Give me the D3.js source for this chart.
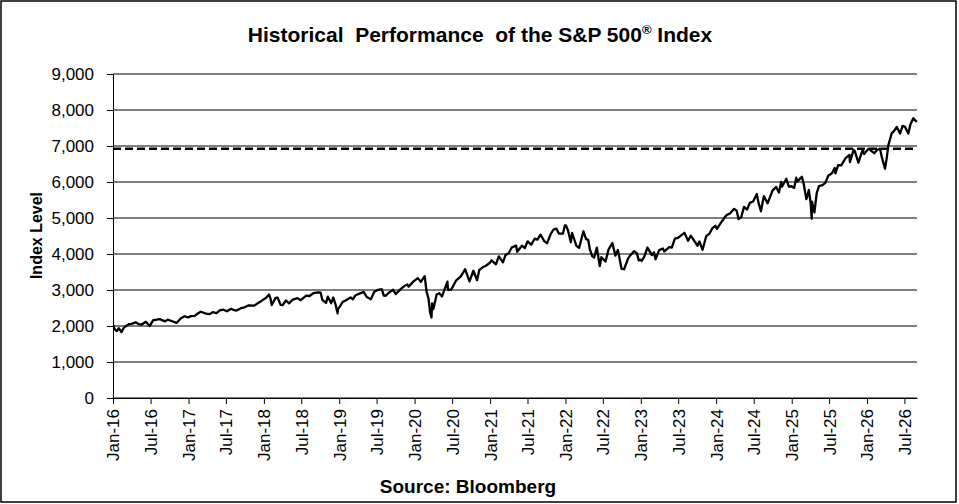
<!DOCTYPE html>
<html lang="en">
<head>
    <meta charset="UTF-8">
    <title>Historical Performance of the S&P 500 Index</title>
    <script src="https://d3js.org/d3.v7.min.js"></script>
    <style>
        body {
            margin: 0;
            background: #fff;
        }
        text {
            font-family: Arial, "Liberation Sans", sans-serif;
            fill: #000;
        }
        .grid {
            stroke: #000;
            stroke-width: 1;
        }
        .axis path, .axis line {
            stroke: #000;
            stroke-width: 1;
        }
        .axis text {
            font-size: 17px;
        }
        .title {
            font-size: 21px;
            font-weight: bold;
        }
        .label {
            font-size: 16px;
            font-weight: bold;
        }
        .source {
            font-size: 19px;
            font-weight: bold;
        }
        .level {
            fill: none;
            stroke: #000;
            stroke-width: 2.3;
            stroke-linejoin: round;
        }
        .strike {
            stroke: #000;
            stroke-width: 2.5;
            stroke-dasharray: 8,4;
        }
    </style>
</head>
<body>
    <svg width="959" height="504"></svg>
    <script>
        // Index closes, grouped by year (month-day, level)
        const days16 = ["01-04","01-08","01-20","01-29","02-11","02-22","03-04","03-18","03-31","04-20","05-05","05-19","06-08","06-27","07-14","07-29","08-15","09-09","09-22","10-14","11-04","11-25","12-13","12-30"];
        const close16 = [2013,1922,1859,1940,1829,1946,1999,2050,2060,2102,2050,2040,2119,2001,2163,2174,2190,2128,2177,2133,2085,2213,2271,2239];

        const days17 = ["01-13","01-31","02-15","03-01","03-27","04-13","04-28","05-17","06-01","06-19","07-06","07-26","08-10","08-21","09-12","09-29","10-20","11-15","12-04","12-18"];
        const close17 = [2275,2279,2349,2396,2342,2329,2384,2357,2431,2453,2410,2478,2438,2428,2496,2519,2575,2565,2639,2690];

        const days18 = ["01-12","01-26","02-02","02-08","02-26","03-09","03-23","04-02","04-18","05-03","05-21","06-13","06-28","07-25","08-10","08-29","09-20","10-03","10-11","10-29","11-07","11-23","12-03","12-14","12-24","12-26","12-31"];
        const close18 = [2786,2873,2762,2581,2780,2786,2588,2582,2708,2630,2733,2775,2716,2846,2833,2914,2931,2925,2729,2641,2814,2633,2790,2600,2351,2468,2507];

        const days19 = ["01-18","02-01","02-25","03-08","03-21","04-12","04-30","05-13","06-03","06-20","07-03","07-26","08-05","08-14","08-30","09-19","10-02","10-28","11-15","11-27","12-03","12-27"];
        const close19 = [2671,2707,2796,2743,2855,2907,2946,2812,2744,2954,2996,3026,2845,2840,2926,3006,2887,3039,3120,3154,3093,3240];

        const days20 = ["01-17","01-31","02-19","02-28","03-09","03-16","03-23","03-26","04-01","04-17","04-30","05-13","06-08","06-11","06-26","07-22","08-12","09-02","09-23","10-12","10-30","11-09","11-27","12-10","12-31"];
        const close20 = [3330,3226,3386,2954,2747,2386,2237,2630,2471,2875,2912,2820,3232,3002,3009,3276,3380,3580,3237,3535,3270,3551,3638,3668,3756];

        const days21 = ["01-08","01-29","02-12","03-04","03-17","04-01","04-16","05-07","05-12","06-04","06-18","07-02","07-19","08-05","08-18","09-02","09-20","10-04","10-21","11-04","11-18","11-30","12-20","12-29"];
        const close21 = [3825,3714,3934,3768,3974,4020,4185,4233,4063,4230,4166,4352,4258,4429,4400,4537,4358,4300,4549,4680,4705,4567,4568,4793];

        const days22 = ["01-03","01-13","01-27","02-02","02-23","03-08","03-29","04-11","04-21","04-29","05-11","05-20","06-02","06-16","06-24","07-14","07-29","08-16","08-31","09-12","09-30","10-12","10-31","11-10","11-30","12-13","12-22","12-30"];
        const close22 = [4797,4660,4327,4589,4226,4171,4632,4413,4394,4132,3935,3901,4177,3667,3912,3790,4130,4305,3955,4110,3586,3577,3872,3956,4080,4020,3822,3840];

        const days23 = ["01-05","01-18","02-02","02-24","03-06","03-13","03-31","04-18","04-25","05-19","05-31","06-15","06-30","07-31","08-18","08-31","09-21","10-03","10-12","10-27","11-14","11-30","12-14","12-28"];
        const close23 = [3808,3929,4179,3970,4048,3855,4109,4154,4071,4192,4180,4426,4450,4589,4370,4508,4330,4229,4349,4117,4496,4568,4720,4783];

        const days24 = ["01-05","01-24","02-12","02-22","03-08","03-28","04-09","04-19","05-01","05-15","05-30","06-12","06-28","07-16","07-24","08-05","08-19","09-06","09-30","10-18","10-31","11-11","11-15","12-06","12-18","12-31"];
        const close24 = [4697,4868,5021,5087,5124,5254,5209,4967,5018,5308,5235,5421,5460,5667,5427,5186,5608,5408,5762,5864,5705,6001,5870,6090,5872,5882];

        const days25 = ["01-13","01-23","01-27","02-19","02-28","03-13","03-25","04-03","04-08","04-09","04-21","05-02","05-13","05-30","06-13","06-27","07-15","07-28","08-01","08-14","08-29","09-19","10-08","10-10","10-28","11-03","11-20","12-11","12-18"];
        const close25 = [5836,6119,6012,6144,5955,5522,5777,5397,4983,5457,5158,5687,5886,5912,5977,6173,6244,6389,6238,6469,6460,6664,6754,6553,6891,6851,6538,6901,6775];

        const days26 = ["01-08","01-22","02-05","02-17","03-05","03-13","03-29","04-06","04-14","04-30","05-12","05-25","06-10","06-22","07-04","07-20","07-30","08-13","08-30"];
        const close26 = [6927,6860,6800,6880,6927,6700,6370,6650,7019,7345,7420,7530,7345,7560,7530,7345,7600,7770,7669];

        const yearly = [
            [2016, days16, close16], [2017, days17, close17], [2018, days18, close18],
            [2019, days19, close19], [2020, days20, close20], [2021, days21, close21],
            [2022, days22, close22], [2023, days23, close23], [2024, days24, close24],
            [2025, days25, close25], [2026, days26, close26]
        ];

        // dashed reference level
        const refLevel = 6925;
        const yTicks = [0, 1000, 2000, 3000, 4000, 5000, 6000, 7000, 8000, 9000];
        const xStart = "2016-01-01", xEnd = "2026-08-31";

        const parse = d3.timeParse("%Y-%m-%d");
        const series = [];
        yearly.forEach(([yr, days, closes]) => {
            d3.zip(days, closes).forEach(([d, v]) => series.push({date: parse(`${yr}-${d}`), value: v}));
        });

        const svg = d3.select("svg"),
              margin = {top: 74, right: 42, bottom: 106, left: 113},
              width = +svg.attr("width") - margin.left - margin.right,
              height = +svg.attr("height") - margin.top - margin.bottom;

        // outer frame
        svg.append("rect")
           .attr("x", 1).attr("y", 1)
           .attr("width", 955).attr("height", 501)
           .attr("fill", "none")
           .attr("stroke", "#000")
           .attr("stroke-width", 1.5);

        const g = svg.append("g").attr("transform", `translate(${margin.left},${margin.top})`);

        const x = d3.scaleTime()
                    .domain([parse(xStart), parse(xEnd)])
                    .range([0, width]);

        const y = d3.scaleLinear()
                    .domain([0, 9000])
                    .range([height, 0]);

        // gridlines
        g.selectAll(".grid")
         .data(yTicks)
         .join("line")
         .attr("class", "grid")
         .attr("x1", 0)
         .attr("x2", width)
         .attr("y1", d => y(d))
         .attr("y2", d => y(d));

        // y axis
        g.append("g")
         .attr("class", "axis")
         .call(d3.axisLeft(y).tickValues(yTicks).tickSize(6).tickSizeOuter(0).tickPadding(13).tickFormat(d3.format(",")));

        // x axis with rotated date labels
        g.append("g")
         .attr("class", "axis")
         .attr("transform", `translate(0,${height})`)
         .call(d3.axisBottom(x).ticks(d3.timeMonth.every(6)).tickSize(6).tickSizeOuter(0).tickFormat(d3.timeFormat("%b-%y")))
         .selectAll("text")
         .attr("transform", "rotate(-90)")
         .attr("x", -11)
         .attr("y", 0)
         .attr("dy", "0.35em")
         .style("text-anchor", "end");

        // reference level
        g.append("line")
         .attr("class", "strike")
         .attr("x1", 0)
         .attr("x2", width)
         .attr("y1", y(refLevel))
         .attr("y2", y(refLevel));

        // index line
        g.append("path")
         .datum(series)
         .attr("class", "level")
         .attr("d", d3.line().x(d => x(d.date)).y(d => y(d.value)));

        // title
        const title = svg.append("text")
           .attr("class", "title")
           .attr("x", 480)
           .attr("y", 42)
           .attr("text-anchor", "middle");
        title.append("tspan").text("Historical\u00a0 Performance\u00a0 of the S&P 500");
        title.append("tspan").attr("dy", -8).style("font-size", "13px").text("\u00ae");
        title.append("tspan").attr("dy", 8).text(" Index");

        svg.append("text")
           .attr("class", "label")
           .attr("transform", "translate(42,235.5) rotate(-90)")
           .attr("text-anchor", "middle")
           .text("Index Level");

        svg.append("text")
           .attr("class", "source")
           .attr("x", 468)
           .attr("y", 493)
           .attr("text-anchor", "middle")
           .text("Source: Bloomberg");
    </script>
</body>
</html>
